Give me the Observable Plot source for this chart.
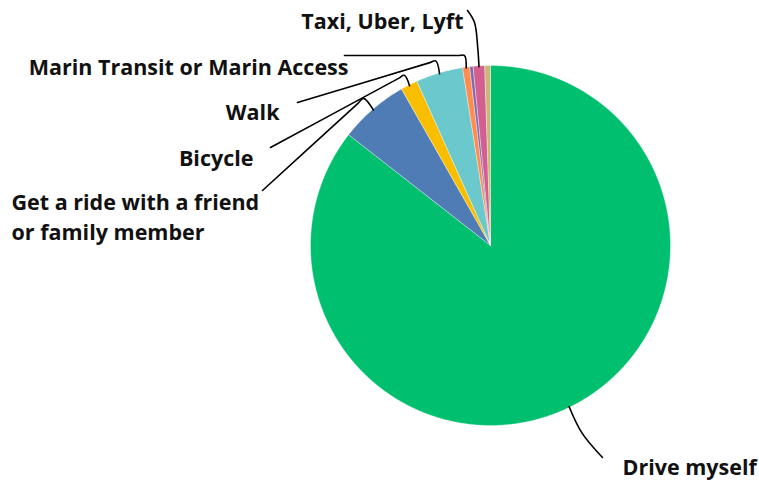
<!DOCTYPE html>
<html>
<head>
<meta charset="utf-8">
<script src="https://cdn.jsdelivr.net/npm/d3@7"></script>
<script src="https://cdn.jsdelivr.net/npm/@observablehq/plot@0.6"></script>
<style>
  html, body { margin: 0; padding: 0; background: #fff; }
  #chart { width: 759px; height: 480px; }
</style>
</head>
<body>
<div id="chart"></div>
<script>
// ---- data ----
const categories = [
  "Drive myself",
  "Get a ride with a friend or family member",
  "Bicycle",
  "Walk",
  "Marin Transit or Marin Access",
  "Unlabeled slice A",
  "Taxi, Uber, Lyft",
  "Unlabeled slice B"
];
const shares = [85.55, 6.22, 1.53, 4.22, 0.63, 0.31, 1.03, 0.51];
const colors = ["#00bf6f", "#507cb6", "#f9be00", "#6bc8cd", "#ff8b4f", "#7f6aad", "#d25f90", "#c7b879"];
const labelTexts = [
  "Drive myself",
  "Get a ride with a friend\nor family member",
  "Bicycle",
  "Walk",
  "Marin Transit or Marin Access",
  "",
  "Taxi, Uber, Lyft",
  ""
];

// ---- layout (pixels) ----
const W = 759, H = 480, CX = 490, CY = 245, R = 180;
const labelLayout = {
  "Drive myself": {tx: 622, ty: 465, anchor: "start", lead: [[602, 457]], k: 1.16, round: false},
  "Get a ride with a friend or family member": {tx: 11, ty: 215, anchor: "start", lead: [[262, 190]], k: 1.08, round: true},
  "Bicycle": {tx: 253, ty: 156, anchor: "end", lead: [[270, 147]], k: 1.06, round: true},
  "Walk": {tx: 279, ty: 110, anchor: "end", lead: [[297, 102]], k: 1.07, round: true},
  "Marin Transit or Marin Access": {tx: 348, ty: 65.5, anchor: "end", lead: [[344, 55]], k: 1.065, round: true},
  "Taxi, Uber, Lyft": {tx: 463, ty: 19, anchor: "end", lead: [[467, 10], [474, 22]], k: 1.1, round: false}
};

const ux = px => (px - CX) / R;
const uy = py => (CY - py) / R;

const rows = categories.map((c, i) => ({category: c, value: shares[i], label: labelTexts[i]}));
const arcs = d3.pie().sort(null).value(d => d.value)(rows);

// slice outlines in unit-radius coordinates
const slicePts = [];
for (const a of arcs) {
  const c = a.data.category;
  const n = Math.max(2, Math.ceil((a.endAngle - a.startAngle) / 0.005));
  slicePts.push({category: c, x: 0, y: 0});
  for (let j = 0; j <= n; j++) {
    const t = a.startAngle + (a.endAngle - a.startAngle) * j / n;
    slicePts.push({category: c, x: Math.sin(t), y: Math.cos(t)});
  }
  slicePts.push({category: c, x: 0, y: 0});
}

// leader lines
const leaderPts = [];
const textStart = [], textEnd = [];
for (const a of arcs) {
  const c = a.data.category;
  const L = labelLayout[c];
  if (!L) continue;
  const m = (a.startAngle + a.endAngle) / 2;
  const pts = L.lead.map(([px, py]) => [ux(px), uy(py)]);
  const E = [L.k * Math.sin(m), L.k * Math.cos(m)];
  if (L.round) {
    const prev = pts[pts.length - 1];
    const dx = prev[0] - E[0], dy = prev[1] - E[1];
    const len = Math.hypot(dx, dy);
    const r = 7 / R;
    pts.push([E[0] + dx / len * r, E[1] + dy / len * r]);
  }
  pts.push(E);
  pts.push([Math.sin(m) * 0.995, Math.cos(m) * 0.995]);
  for (const p of pts) leaderPts.push({category: c, x: p[0], y: p[1]});
  const t = {category: c, x: ux(L.tx), y: uy(L.ty), text: a.data.label};
  (L.anchor === "start" ? textStart : textEnd).push(t);
}

const textOpts = {
  x: "x", y: "y", text: "text",
  fontSize: 21.5, fontWeight: 700, fontFamily: "'Open Sans', Roboto, sans-serif",
  lineHeight: 1.37, fill: "#111"
};

const chart = Plot.plot({
  width: W,
  height: H,
  margin: 0,
  x: {domain: [ux(0), ux(W)], axis: null},
  y: {domain: [uy(H), uy(0)], axis: null},
  color: {domain: categories, range: colors},
  marks: [
    Plot.line(slicePts, {x: "x", y: "y", z: "category", fill: "category", stroke: "#ffffff", strokeWidth: 0.5, strokeOpacity: 0.7, curve: "linear"}),
    Plot.line(leaderPts, {x: "x", y: "y", z: "category", stroke: "#000", strokeWidth: 1.6, curve: "catmull-rom"}),
    Plot.text(textEnd, {...textOpts, textAnchor: "end"}),
    Plot.text(textStart, {...textOpts, textAnchor: "start"})
  ]
});
document.getElementById("chart").appendChild(chart);
</script>
</body>
</html>
